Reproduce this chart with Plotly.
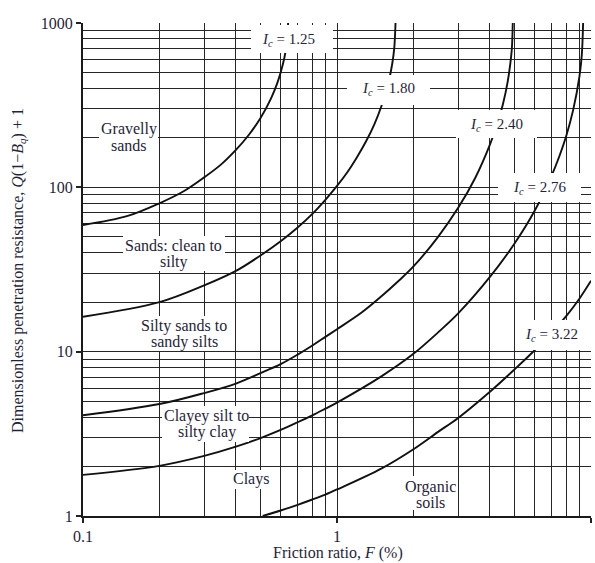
import plotly.graph_objects as go

# ---- Soil behaviour type chart: curves of constant Ic ----
# Friction ratio F (%) and normalised resistance Q(1-Bq)+1 along each boundary
f_ic125 = [0.1, 0.15, 0.2, 0.25, 0.3, 0.35, 0.4, 0.45, 0.5, 0.55, 0.58, 0.6, 0.62, 0.635, 0.642]
q_ic125 = [59, 67, 80, 95, 115, 138, 169, 209, 264, 348, 425, 500, 610, 760, 1000]

f_ic180 = [0.1, 0.2, 0.3, 0.4, 0.5, 0.6, 0.7, 0.8, 0.9, 1.0, 1.1, 1.2, 1.3, 1.4, 1.5, 1.55, 1.6, 1.65, 1.68, 1.70]
q_ic180 = [16.3, 20, 25.3, 31, 38.5, 47, 57, 69, 84, 102, 124, 153, 190, 240, 316, 372, 445, 565, 700, 1000]

f_ic240 = [0.1, 0.2, 0.3, 0.4, 0.5, 0.6, 0.7, 0.8, 0.9, 1.0, 1.25, 1.5, 1.75, 2.0, 2.5, 3.0, 3.5, 4.0, 4.3, 4.5, 4.7, 4.8, 4.88, 4.92]
q_ic240 = [4.1, 4.8, 5.6, 6.4, 7.4, 8.4, 9.6, 10.9, 12.3, 13.7, 17.3, 21.8, 27, 33, 50, 75, 114, 182, 250, 320, 440, 550, 700, 1000]

f_ic276 = [0.1, 0.2, 0.3, 0.4, 0.5, 0.6, 0.7, 0.8, 0.9, 1.0, 1.5, 2.0, 2.5, 3.0, 4.0, 5.0, 6.0, 7.0, 7.5, 8.0, 8.5, 9.0, 9.2, 9.31]
q_ic276 = [1.78, 2.02, 2.32, 2.64, 2.98, 3.34, 3.72, 4.1, 4.5, 4.9, 7.1, 9.7, 13.1, 17.1, 28.5, 45.5, 72, 118, 154, 207, 294, 470, 640, 1000]

f_ic322 = [0.51, 0.6, 0.7, 0.8, 0.9, 1.0, 1.5, 2.0, 2.5, 3.0, 4.0, 5.0, 6.0, 7.0, 8.0, 9.0, 10.0]
q_ic322 = [1.0, 1.08, 1.17, 1.26, 1.35, 1.45, 1.95, 2.55, 3.25, 3.95, 5.7, 7.8, 10.2, 13.0, 16.5, 21.0, 27.0]

curves = [
    (f_ic125, q_ic125),
    (f_ic180, q_ic180),
    (f_ic240, q_ic240),
    (f_ic276, q_ic276),
    (f_ic322, q_ic322),
]

# Curve labels and soil-zone names
ic_labels = ["1.25", "1.80", "2.40", "2.76", "3.22"]
zone_names = [
    ["Gravelly", "sands"],
    ["Sands: clean to", "silty"],
    ["Silty sands to", "sandy silts"],
    ["Clayey silt to", "silty clay"],
    ["Clays"],
    ["Organic", "soils"],
]

x_ticks = [0.1, 1, 10]
x_tick_text = ["0.1", "1", "10"]
y_ticks = [1, 10, 100, 1000]
y_tick_text = ["1", "10", "100", "1000"]

# ---- layout geometry (pixels) ----
W, H = 595, 563
ML, MR, MT, MB = 83, 4, 23, 47
PW, PH = W - ML - MR, H - MT - MB
SERIF = "Liberation Serif"
INK = "#1f2538"
GRID = "#262626"


def px(xp):
    return (xp - ML) / PW


def py(yp):
    return (H - MB - yp) / PH


fig = go.Figure()
for fx, qy in curves:
    fig.add_trace(go.Scatter(
        x=fx, y=qy, mode="lines",
        line=dict(color="#111111", width=1.9, shape="spline", smoothing=1.0),
        hoverinfo="skip", showlegend=False,
    ))

# white boxes behind labels (x0, x1, y0, y1 in pixels) and text centres
ic_boxes = [
    ((251, 333, 25, 53), (288, 40)),
    ((347, 430, 75, 105), (388, 89)),
    ((456, 537, 110, 138), (496, 125)),
    ((498, 581, 173, 202), (539, 188)),
    ((520, 586, 320, 350), (551, 335)),
]
zone_boxes = [
    ((99, 158, 120, 154), [(129, 129), (129, 145)]),
    ((123, 225, 236, 271), [(173.5, 245.5), (174, 262)]),
    ((139, 230, 316, 351), [(184, 325.5), (184.5, 341.5)]),
    ((162, 249, 406, 442), [(206, 415.5), (207, 432)]),
    ((231, 270, 470, 489), [(250.5, 479)]),
    ((402, 457, 476, 510), [(430, 486.5), (430, 502)]),
]

shapes = []
annotations = []
for (x0, x1, y0, y1), _ in ic_boxes + zone_boxes:
    shapes.append(dict(type="rect", xref="paper", yref="paper",
                       x0=px(x0), x1=px(x1), y0=py(y1), y1=py(y0),
                       fillcolor="white", line=dict(width=0), layer="above"))

for label, (_, (cx, cy)) in zip(ic_labels, ic_boxes):
    annotations.append(dict(
        x=px(cx), y=py(cy), xref="paper", yref="paper",
        text="<i>I</i><sub><i>c</i></sub> = " + label, showarrow=False,
        xanchor="center", yanchor="middle",
        font=dict(family=SERIF, size=15, color=INK)))

for lines, (_, centres) in zip(zone_names, zone_boxes):
    for line_text, (cx, cy) in zip(lines, centres):
        annotations.append(dict(
            x=px(cx), y=py(cy), xref="paper", yref="paper",
            text=line_text, showarrow=False,
            xanchor="center", yanchor="middle",
            font=dict(family=SERIF, size=16, color=INK)))

# axis titles
annotations.append(dict(
    x=px(338), y=py(553), xref="paper", yref="paper", showarrow=False,
    text="Friction ratio, <i>F</i> (%)", xanchor="center", yanchor="middle",
    font=dict(family=SERIF, size=16, color=INK)))
annotations.append(dict(
    x=px(18), y=py(271), xref="paper", yref="paper", showarrow=False,
    text="Dimensionless penetration resistance, <i>Q</i>(1\u2212<i>B</i><sub><i>q</i></sub>) + 1",
    textangle=-90, xanchor="center", yanchor="middle",
    font=dict(family=SERIF, size=16, color=INK)))

minor_x = [d * 10.0 ** e for e in (-1, 0) for d in range(2, 10)]
minor_y = [d * 10.0 ** e for e in (0, 1, 2) for d in range(2, 10)]

axis_common = dict(
    type="log", showgrid=True, gridcolor=GRID, gridwidth=1.3,
    ticks="outside", ticklen=5, tickwidth=1.5, tickcolor="#222222",
    showline=True, linecolor="#1a1a1a", linewidth=2, zeroline=False,
    tickfont=dict(family=SERIF, size=16, color=INK),
)

fig.update_layout(
    width=W, height=H,
    margin=dict(l=ML, r=MR, t=MT, b=MB, pad=0),
    paper_bgcolor="white", plot_bgcolor="white",
    xaxis=dict(range=[-1, 1], tickmode="array", tickvals=x_ticks, ticktext=x_tick_text,
               minor=dict(tickmode="array", tickvals=minor_x, showgrid=True,
                          gridcolor=GRID, gridwidth=1.3, ticks=""),
               **axis_common),
    yaxis=dict(range=[0, 3], tickmode="array", tickvals=y_ticks, ticktext=y_tick_text,
               minor=dict(tickmode="array", tickvals=minor_y, showgrid=True,
                          gridcolor=GRID, gridwidth=1.3, ticks=""),
               **axis_common),
    shapes=shapes,
    annotations=annotations,
    showlegend=False,
)

fig.write_html("out.html")
